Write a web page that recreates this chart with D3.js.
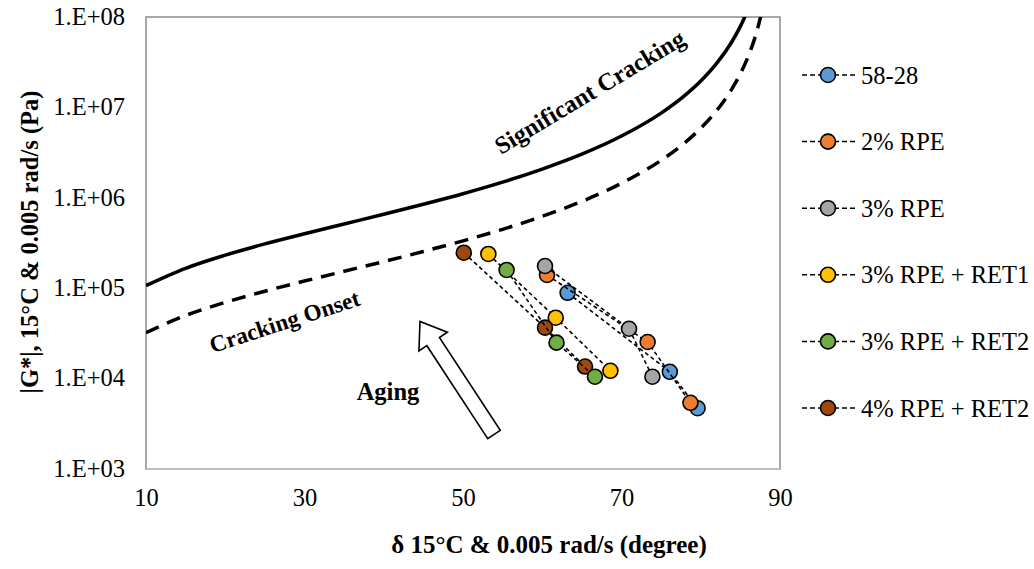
<!DOCTYPE html>
<html>
<head>
<meta charset="utf-8">
<script src="https://cdn.jsdelivr.net/npm/d3@7"></script>
<style>
  html, body { margin: 0; padding: 0; background: #ffffff; }
  svg { display: block; }
</style>
</head>
<body>
<svg id="chart" width="1034" height="569"></svg>
<script>
// ---------- data ----------
const seriesNames = ["58-28", "2% RPE", "3% RPE", "3% RPE + RET1", "3% RPE + RET2", "4% RPE + RET2"];
const seriesColors = ["#5B9BD5", "#ED7D31", "#A5A5A5", "#FFC000", "#70AD47", "#9E480E"];
const deltaValues = [
  [63.2, 76.1, 79.6],
  [60.6, 73.3, 78.7],
  [60.35, 70.95, 73.9],
  [53.2, 61.7, 68.6],
  [55.5, 61.8, 66.65],
  [50.1, 60.35, 65.4]
];
const gStarValues = [
  [8.9e4, 1.19e4, 4.7e3],
  [1.40e5, 2.54e4, 5.4e3],
  [1.76e5, 3.56e4, 1.05e4],
  [2.39e5, 4.72e4, 1.22e4],
  [1.59e5, 2.50e4, 1.05e4],
  [2.47e5, 3.66e4, 1.36e4]
];
// drawing order (index into series)
const drawOrder = [0, 1, 2, 3, 5, 4];

// Significant cracking curve (solid) and cracking onset (dashed)
const sigDelta = [10, 15, 20, 25, 30, 35, 40, 45, 50, 55, 60, 65, 70, 75, 78, 80, 82, 84, 85, 86];
const sigG = [1.07e5, 1.66e5, 2.32e5, 3.09e5, 4.0e5, 5.13e5, 6.57e5, 8.49e5, 1.11e6, 1.49e6, 2.08e6, 3.04e6, 4.82e6, 8.65e6, 1.36e7, 1.96e7, 3.07e7, 5.46e7, 7.87e7, 1.23e8];
const onsetDelta = [10, 15, 20, 25, 30, 35, 40, 45, 50, 55, 60, 65, 70, 75, 78, 80, 82, 84, 85, 86, 87, 88];
const onsetG = [3.22e4, 4.99e4, 6.97e4, 9.26e4, 1.20e5, 1.54e5, 1.97e5, 2.55e5, 3.34e5, 4.48e5, 6.24e5, 9.13e5, 1.45e6, 2.60e6, 4.07e6, 5.88e6, 9.20e6, 1.64e7, 2.36e7, 3.69e7, 6.56e7, 1.48e8];

const xTicks = [10, 30, 50, 70, 90];
const yTicks = [1e3, 1e4, 1e5, 1e6, 1e7, 1e8];
const yTickLabels = ["1.E+03", "1.E+04", "1.E+05", "1.E+06", "1.E+07", "1.E+08"];
const xTitle = "δ 15°C & 0.005 rad/s (degree)";
const yTitle = "|G*|, 15°C & 0.005 rad/s (Pa)";

// ---------- layout ----------
const plot = { left: 146, right: 780, top: 17, bottom: 469 };
const svg = d3.select("#chart");
const serif = "'Liberation Serif', 'Times New Roman', serif";
const fs = 24.5;

const x = d3.scaleLinear().domain([10, 90]).range([plot.left, plot.right]);
const y = d3.scaleLog().domain([1e3, 1e8]).range([plot.bottom, plot.top]);

svg.append("rect").attr("width", 1034).attr("height", 569).attr("fill", "#fff");

svg.append("defs").append("clipPath").attr("id", "clip")
  .append("rect")
  .attr("x", plot.left).attr("y", plot.top)
  .attr("width", plot.right - plot.left).attr("height", plot.bottom - plot.top);

// plot border
svg.append("rect")
  .attr("x", plot.left).attr("y", plot.top)
  .attr("width", plot.right - plot.left).attr("height", plot.bottom - plot.top)
  .attr("fill", "none").attr("stroke", "#8c8c8c").attr("stroke-width", 1.5);
svg.append("line")
  .attr("x1", plot.left).attr("x2", plot.right)
  .attr("y1", plot.bottom).attr("y2", plot.bottom)
  .attr("stroke", "#c4c4c4").attr("stroke-width", 1.5);

// axes (labels only, no tick marks)
const xAxis = d3.axisBottom(x).tickValues(xTicks).tickSize(0).tickPadding(0);
const gx = svg.append("g").attr("transform", `translate(0,${plot.bottom})`).call(xAxis);
gx.select(".domain").remove();
gx.selectAll("text")
  .attr("y", 37).attr("dy", 0)
  .attr("font-family", serif).attr("font-size", fs).attr("fill", "#000");

const yAxis = d3.axisLeft(y).tickValues(yTicks).tickSize(0).tickPadding(0)
  .tickFormat((d, i) => yTickLabels[i]);
const gy = svg.append("g").attr("transform", `translate(${plot.left},0)`).call(yAxis);
gy.select(".domain").remove();
gy.selectAll("text")
  .attr("x", -21).attr("dy", "0.3em")
  .attr("font-family", serif).attr("font-size", fs).attr("fill", "#000");

// axis titles
svg.append("text")
  .attr("x", 549).attr("y", 553)
  .attr("text-anchor", "middle")
  .attr("font-family", serif).attr("font-size", 25).attr("font-weight", "bold")
  .text(xTitle);
svg.append("text")
  .attr("transform", "translate(38,242) rotate(-90)")
  .attr("text-anchor", "middle")
  .attr("font-family", serif).attr("font-size", 24.5).attr("font-weight", "bold")
  .text(yTitle);

// criterion curves
const curveLine = d3.line().x(d => x(d[0])).y(d => y(d[1])).curve(d3.curveMonotoneX);
const curves = svg.append("g").attr("clip-path", "url(#clip)");
curves.append("path")
  .datum(sigDelta.map((d, i) => [d, sigG[i]]))
  .attr("d", curveLine)
  .attr("fill", "none").attr("stroke", "#000").attr("stroke-width", 3.5);
curves.append("path")
  .datum(onsetDelta.map((d, i) => [d, onsetG[i]]))
  .attr("d", curveLine)
  .attr("fill", "none").attr("stroke", "#000").attr("stroke-width", 3.5)
  .attr("stroke-dasharray", "14,9");

// annotations
svg.append("text")
  .attr("transform", "translate(594,99) rotate(-31)")
  .attr("text-anchor", "middle")
  .attr("font-family", serif).attr("font-size", 24.5).attr("font-weight", "bold")
  .text("Significant Cracking");
svg.append("text")
  .attr("transform", "translate(287,329) rotate(-18)")
  .attr("text-anchor", "middle")
  .attr("font-family", serif).attr("font-size", 23.2).attr("font-weight", "bold")
  .text("Cracking Onset");
svg.append("text")
  .attr("x", 388).attr("y", 400)
  .attr("text-anchor", "middle")
  .attr("font-family", serif).attr("font-size", 24.5).attr("font-weight", "bold")
  .text("Aging");

// hollow arrow (tail at bottom right, tip at upper left)
(function () {
  const tail = [494, 434.5], tip = [420, 321.5];
  const dx = tip[0] - tail[0], dy = tip[1] - tail[1];
  const len = Math.sqrt(dx * dx + dy * dy);
  const ang = Math.atan2(dy, dx) * 180 / Math.PI;
  const sw = 7.5, hw = 17, hl = 24;
  const pts = [[0, -sw], [len - hl, -sw], [len - hl, -hw], [len, 0], [len - hl, hw], [len - hl, sw], [0, sw]];
  svg.append("polygon")
    .attr("transform", `translate(${tail[0]},${tail[1]}) rotate(${ang})`)
    .attr("points", pts.map(p => p.join(",")).join(" "))
    .attr("fill", "#fff").attr("stroke", "#000").attr("stroke-width", 1.6);
})();

// series
const connect = d3.line().x(d => x(d[0])).y(d => y(d[1]));
const seriesG = svg.append("g");
drawOrder.forEach(i => {
  const pts = deltaValues[i].map((d, j) => [d, gStarValues[i][j]]);
  const g = seriesG.append("g");
  g.append("path").datum(pts).attr("d", connect)
    .attr("fill", "none").attr("stroke", "#000").attr("stroke-width", 1.6)
    .attr("stroke-dasharray", "4,3");
  g.selectAll("circle").data(pts).enter().append("circle")
    .attr("cx", d => x(d[0])).attr("cy", d => y(d[1])).attr("r", 7.5)
    .attr("fill", seriesColors[i]).attr("stroke", "#000").attr("stroke-width", 1.6);
});

// legend
const legend = svg.append("g");
seriesNames.forEach((name, i) => {
  const ly = 75 + i * 66.6;
  const g = legend.append("g").attr("transform", `translate(0,${ly})`);
  g.append("line").attr("x1", 802).attr("x2", 857).attr("y1", 0).attr("y2", 0)
    .attr("stroke", "#000").attr("stroke-width", 1.5).attr("stroke-dasharray", "5,3");
  g.append("circle").attr("cx", 828).attr("cy", 0).attr("r", 7.5)
    .attr("fill", seriesColors[i]).attr("stroke", "#000").attr("stroke-width", 1.6);
  g.append("text").attr("x", 861).attr("y", 0).attr("dy", "0.35em")
    .attr("font-family", serif).attr("font-size", fs).attr("fill", "#000")
    .text(name);
});
</script>
</body>
</html>
